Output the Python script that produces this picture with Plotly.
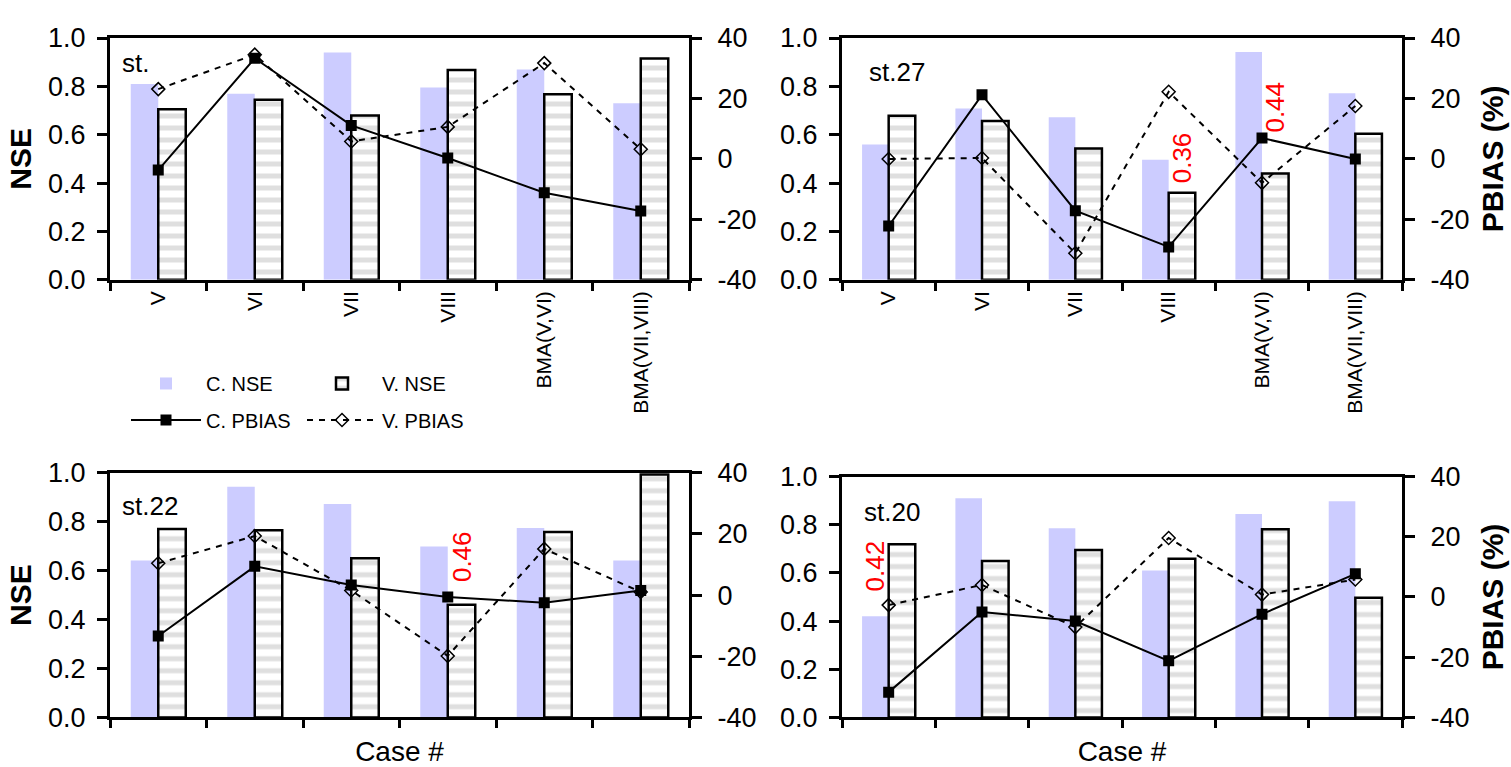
import plotly.graph_objects as go

# ---------------- data ----------------
cases = ["V", "VI", "VII", "VIII", "BMA(V,VI)", "BMA(VII,VIII)"]
stations = ["st.", "st.27", "st.22", "st.20"]

c_nse_st = [0.81, 0.77, 0.94, 0.795, 0.87, 0.73]
v_nse_st = [0.705, 0.745, 0.68, 0.868, 0.768, 0.915]
c_pbias_st = [-3.7, 33.3, 11.1, 0.3, -11.2, -17.2]
v_pbias_st = [23.1, 34.5, 5.8, 10.6, 31.7, 3.2]

c_nse_27 = [0.56, 0.709, 0.672, 0.497, 0.942, 0.772]
v_nse_27 = [0.679, 0.657, 0.543, 0.36, 0.44, 0.604]
c_pbias_27 = [-22.2, 21.2, -17.1, -29.1, 6.9, 0.0]
v_pbias_27 = [0.0, 0.3, -31.2, 22.2, -7.9, 17.5]

c_nse_22 = [0.641, 0.943, 0.872, 0.698, 0.774, 0.641]
v_nse_22 = [0.77, 0.765, 0.65, 0.46, 0.758, 0.993]
c_pbias_22 = [-13.4, 9.4, 3.3, -0.6, -2.5, 1.5]
v_pbias_22 = [10.4, 19.3, 1.5, -19.9, 15.1, 1.0]

c_nse_20 = [0.42, 0.91, 0.785, 0.61, 0.845, 0.897]
v_nse_20 = [0.719, 0.649, 0.695, 0.659, 0.781, 0.497]
c_pbias_20 = [-31.6, -5.0, -8.0, -21.2, -5.7, 7.7]
v_pbias_20 = [-2.7, 4.0, -10.0, 19.6, 0.8, 5.8]

nse_ticks = [0.0, 0.2, 0.4, 0.6, 0.8, 1.0]
pbias_ticks = [-40, -20, 0, 20, 40]
pbias_ticktext = ["-40", "-20", "0", "20", "40"]

# red value labels: (panel, case index, series, label, label base y)
red_labels = [
    (1, 3, "V", "0.36", 0.393),
    (1, 4, "V", "0.44", 0.60),
    (2, 3, "V", "0.46", 0.545),
    (3, 0, "C", "0.42", 0.514),
]

panels = [
    (c_nse_st, v_nse_st, c_pbias_st, v_pbias_st),
    (c_nse_27, v_nse_27, c_pbias_27, v_pbias_27),
    (c_nse_22, v_nse_22, c_pbias_22, v_pbias_22),
    (c_nse_20, v_nse_20, c_pbias_20, v_pbias_20),
]

# ---------------- layout geometry (pixels) ----------------
W, H = 1511, 767
# (left, right, top, bottom)
boxes = [
    (110, 689, 24, 276),
    (842, 1402, 24, 276),
    (110, 689, 477, 732),
    (842, 1402, 481, 732),
]
label_pos = [(120, 50), (867, 59), (120, 512), (862, 518)]

FONT = "Liberation Sans, Arial, sans-serif"
LAV = "#ccccff"

fig = go.Figure()

for i, (c_nse, v_nse, c_pb, v_pb) in enumerate(panels):
    xa = "x" if i == 0 else f"x{i+1}"
    ya = f"y{2*i+1}" if i > 0 else "y"
    yb = f"y{2*i+2}"
    show = i == 0
    fig.add_trace(go.Bar(
        x=cases, y=c_nse, name="C. NSE", xaxis=xa, yaxis=ya,
        marker=dict(color=LAV, line=dict(width=0)),
        showlegend=show, legend="legend", offsetgroup="c",
    ))
    fig.add_trace(go.Bar(
        x=cases, y=v_nse, name="V. NSE", xaxis=xa, yaxis=ya,
        marker=dict(color="white", line=dict(color="black", width=2.5),
                    pattern=dict(shape="-", fgcolor="#c0c0c0", bgcolor="white",
                                 size=12, solidity=0.42)),
        showlegend=show, legend="legend", offsetgroup="v",
    ))
    fig.add_trace(go.Scatter(
        x=cases, y=c_pb, name="C. PBIAS", xaxis=xa, yaxis=yb,
        mode="lines+markers",
        line=dict(color="black", width=2),
        marker=dict(symbol="square", size=11, color="black"),
        showlegend=show, legend="legend2",
    ))
    fig.add_trace(go.Scatter(
        x=cases, y=v_pb, name="V. PBIAS", xaxis=xa, yaxis=yb,
        mode="lines+markers",
        line=dict(color="black", width=2, dash="6px,6px"),
        marker=dict(symbol="diamond-open", size=10, color="black",
                    line=dict(width=1.5, color="black")),
        showlegend=show, legend="legend2",
    ))

layout = dict(
    width=W, height=H,
    margin=dict(l=0, r=0, t=0, b=0),
    paper_bgcolor="white", plot_bgcolor="white",
    barmode="group", bargap=0.43, bargroupgap=0,
    font=dict(family=FONT, color="black", size=20),
    showlegend=True,
    legend=dict(orientation="h", x=126 / W, y=1 - 384 / H, xanchor="left",
                yanchor="middle", entrywidth=91, entrywidthmode="pixels",
                itemwidth=70, font=dict(size=20, family=FONT),
                bgcolor="rgba(0,0,0,0)", traceorder="normal"),
    legend2=dict(orientation="h", x=126 / W, y=1 - 422 / H, xanchor="left",
                 yanchor="middle", entrywidth=91, entrywidthmode="pixels",
                 itemwidth=70, font=dict(size=20, family=FONT),
                 bgcolor="rgba(0,0,0,0)", traceorder="normal"),
)

annotations = []
for i, (l, r, t, b) in enumerate(boxes):
    xk = "xaxis" if i == 0 else f"xaxis{i+1}"
    yk1 = "yaxis" if i == 0 else f"yaxis{2*i+1}"
    yk2 = f"yaxis{2*i+2}"
    xa = "x" if i == 0 else f"x{i+1}"
    ya = "y" if i == 0 else f"y{2*i+1}"
    top_row = i < 2
    layout[xk] = dict(
        domain=[l / W, r / W], anchor=ya, type="category",
        showline=True, linecolor="black", linewidth=3, mirror=True,
        ticks="outside", tickson="boundaries", ticklen=8, tickwidth=3,
        tickcolor="black", showgrid=False, zeroline=False,
        showticklabels=top_row, tickangle=-90,
        tickfont=dict(size=21, family=FONT),
        title=None if top_row else dict(text="Case #", font=dict(size=28, family=FONT), standoff=22),
        fixedrange=True,
    )
    layout[yk1] = dict(
        domain=[1 - b / H, 1 - t / H], anchor=xa, range=[0, 1],
        tickvals=nse_ticks, tickformat=".1f",
        ticks="outside", ticklen=10, tickwidth=3, tickcolor="black",
        showline=True, linecolor="black", linewidth=3,
        showgrid=False, zeroline=False,
        tickfont=dict(size=27, family=FONT), ticklabelstandoff=6,
        title=dict(text="NSE", font=dict(size=30, family=FONT, weight="bold"), standoff=8) if i in (0, 2) else None,
    )
    layout[yk2] = dict(
        overlaying=ya, anchor=xa, side="right", range=[-40, 40],
        tickvals=pbias_ticks, ticktext=pbias_ticktext,
        ticks="outside", ticklen=10, tickwidth=3, tickcolor="black",
        showline=True, linecolor="black", linewidth=3,
        showgrid=False, zeroline=False,
        tickfont=dict(size=27, family=FONT), ticklabelstandoff=10,
        title=dict(text="PBIAS (%)", font=dict(size=30, family=FONT, weight="bold"), standoff=14) if i in (1, 3) else None,
    )
    lx, ly = label_pos[i]
    annotations.append(dict(
        text=stations[i], xref="paper", yref="paper",
        x=lx / W, y=1 - ly / H, xanchor="left", yanchor="middle",
        showarrow=False, font=dict(size=26, family=FONT, color="black"),
    ))

half_bar = (1 - 0.43) / 4
for (p, ci, series, txt, ybase) in red_labels:
    xa = "x" if p == 0 else f"x{p+1}"
    ya = "y" if p == 0 else f"y{2*p+1}"
    xpos = ci + (half_bar if series == "V" else -half_bar)
    annotations.append(dict(
        text=txt, xref=xa, yref=ya, x=xpos, y=ybase,
        xanchor="center", yanchor="bottom", textangle=-90,
        showarrow=False, font=dict(size=26, family=FONT, color="#ff0000"),
    ))

layout["annotations"] = annotations
fig.update_layout(**layout)

fig.write_html("out.html")
